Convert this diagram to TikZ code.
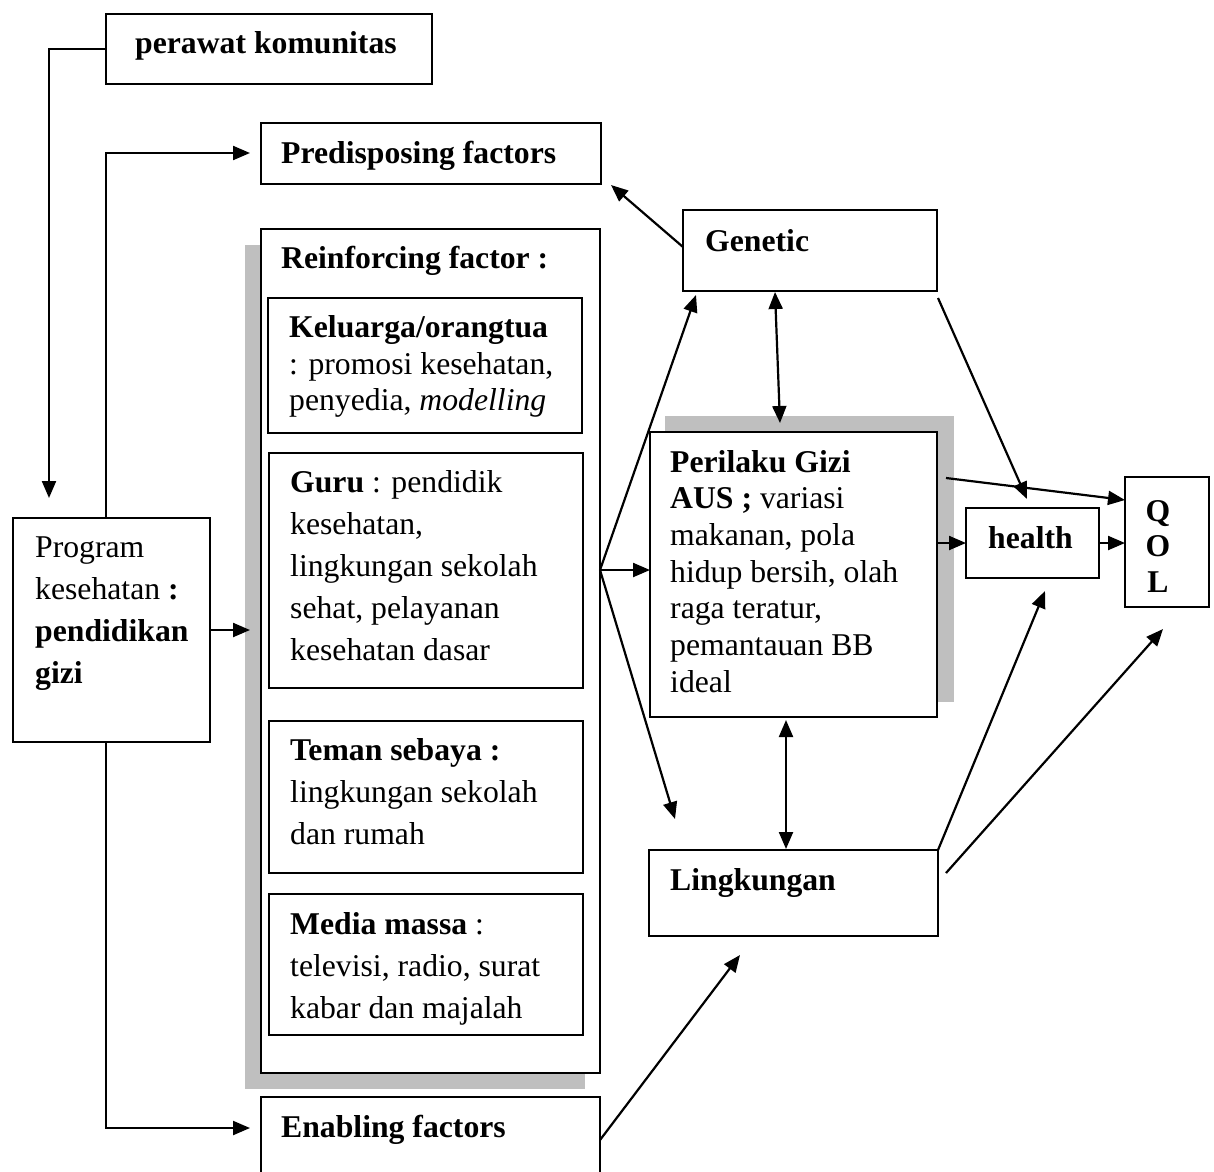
\documentclass[tikz,border=0pt]{standalone}
\usepackage{fontspec}
\setmainfont{Liberation Serif}
\usetikzlibrary{arrows.meta,calc}
\begin{document}
\begin{tikzpicture}[x=1pt,y=-1pt,
  box/.style={draw, line width=2.2pt, anchor=north west, inner sep=0pt, outer sep=0pt, fill=white},
  shade/.style={fill=black!25, draw=none},
  txt/.style={anchor=base west, inner sep=0pt, font=\fontsize{31.7pt}{36pt}\selectfont},
  ctxt/.style={anchor=base, inner sep=0pt, font=\fontsize{31.7pt}{36pt}\selectfont\bfseries},
  arr/.style={line width=2.2pt, -{Triangle[length=17pt,width=14pt]}},
  darr/.style={line width=2.2pt, {Triangle[length=17pt,width=14pt]}-{Triangle[length=17pt,width=14pt]}},
  ln/.style={line width=2.2pt}]
\useasboundingbox (0,0) rectangle (1214,1171);
\clip (0,0) rectangle (1214,1171);

% shadows
\fill[shade] (245,245) rectangle (585,1089);
\fill[shade] (665,416) rectangle (954,702);

% boxes
\node[box, minimum width=326pt, minimum height=70pt] (perawat) at (106,14) {};
\node[box, minimum width=340pt, minimum height=61pt] (pred) at (261,123) {};
\node[box, minimum width=339pt, minimum height=844pt] (reinf) at (261,229) {};
\node[box, minimum width=314pt, minimum height=135pt] (kel) at (268,298) {};
\node[box, minimum width=314pt, minimum height=235pt] (guru) at (269,453) {};
\node[box, minimum width=314pt, minimum height=152pt] (teman) at (269,721) {};
\node[box, minimum width=314pt, minimum height=141pt] (media) at (269,894) {};
\node[box, minimum width=339pt, minimum height=100pt] (enab) at (261,1097) {};
\node[box, minimum width=197pt, minimum height=224pt] (prog) at (13,518) {};
\node[box, minimum width=254pt, minimum height=81pt] (genetic) at (683,210) {};
\node[box, minimum width=287pt, minimum height=285pt] (peril) at (650,432) {};
\node[box, minimum width=133pt, minimum height=70pt] (health) at (966,508) {};
\node[box, minimum width=84pt, minimum height=130pt] (qol) at (1125,477) {};
\node[box, minimum width=289pt, minimum height=86pt] (ling) at (649,850) {};

% texts
\node[txt] (tperawat) at (135,53) {\textbf{perawat komunitas}};
\node[txt] (tpred) at (281,163) {\textbf{Predisposing factors}};
\node[txt] (treinf) at (281,268) {\textbf{Reinforcing factor :}};
\node[txt] (tkel1) at (289,337) {\textbf{Keluarga/orangtua}};
\node[txt] (tkel2) at (289,374) {: promosi kesehatan,};
\node[txt] (tkel3) at (289,410) {penyedia, \textit{modelling}};
\node[txt] (tguru1) at (290,492) {\textbf{Guru} : pendidik};
\node[txt] (tguru2) at (290,534) {kesehatan,};
\node[txt] (tguru3) at (290,576) {lingkungan sekolah};
\node[txt] (tguru4) at (290,618) {sehat, pelayanan};
\node[txt] (tguru5) at (290,660) {kesehatan dasar};
\node[txt] (tprog1) at (35,557) {Program};
\node[txt] (tprog2) at (35,599) {kesehatan \textbf{:}};
\node[txt] (tprog3) at (35,641) {\textbf{pendidikan}};
\node[txt] (tprog4) at (35,683) {\textbf{gizi}};
\node[txt] (tteman1) at (290,760) {\textbf{Teman sebaya :}};
\node[txt] (tteman2) at (290,802) {lingkungan sekolah};
\node[txt] (tteman3) at (290,844) {dan rumah};
\node[txt] (tmedia1) at (290,934) {\textbf{Media massa} :};
\node[txt] (tmedia2) at (290,976) {televisi, radio, surat};
\node[txt] (tmedia3) at (290,1018) {kabar dan majalah};
\node[txt] (tenab) at (281,1137) {\textbf{Enabling factors}};
\node[txt] (tgen) at (705,251) {\textbf{Genetic}};
\node[txt] (tper1) at (670,472) {\textbf{Perilaku Gizi}};
\node[txt] (tper2) at (670,508.7) {\textbf{AUS ;} variasi};
\node[txt] (tper3) at (670,545.4) {makanan, pola};
\node[txt] (tper4) at (670,582.1) {hidup bersih, olah};
\node[txt] (tper5) at (670,618.8) {raga teratur,};
\node[txt] (tper6) at (670,655.5) {pemantauan BB};
\node[txt] (tper7) at (670,692.2) {ideal};
\node[txt] (thealth) at (988,548) {\textbf{health}};
\node[ctxt] (tq) at (1158,521) {Q};
\node[ctxt] (to) at (1158,556) {O};
\node[ctxt] (tl) at (1158,592) {L};
\node[txt] (tling) at (670,890) {\textbf{Lingkungan}};

% connector coordinates
\coordinate (downtip) at (49,498);
\coordinate (vl) at (106,0);
\coordinate (predtip) at (250,153);
\coordinate (enabtip) at (250,1128);
\coordinate (progtip) at (250,630);
\coordinate (fan) at (600,570);
\coordinate (gtip) at (696,295);
\coordinate (lgtip) at (675,819);
\coordinate (pgtip) at (611,185);
\coordinate (gstart) at (683,247);
\coordinate (ghs) at (938,298);
\coordinate (ghtip) at (1027,499);
\coordinate (pqs) at (946,478);
\coordinate (pqtip) at (1125,500);
\coordinate (lqs) at (946,873);
\coordinate (lqtip) at (1163,629);
\coordinate (lhtip) at (1045,591);
\coordinate (elstart) at (600,1140);
\coordinate (eltip) at (740,955);
\coordinate (gp1) at (775,292);
\coordinate (gp2) at (780,423);
\coordinate (pl1) at (786,720);
\coordinate (pl2) at (786,849);

% connectors
\draw[arr] (perawat.west) -| (downtip);
\draw[arr] (prog.north -| vl) |- (predtip);
\draw[arr] (prog.east) -- (progtip);
\draw[arr] (prog.south -| vl) |- (enabtip);
\draw[arr] (gstart) -- (pgtip);
\draw[arr] (fan) -- (gtip);
\draw[arr] (fan) -- (peril.west |- fan);
\draw[arr] (fan) -- (lgtip);
\draw[darr] (gp1) -- (gp2);
\draw[darr] (pl1) -- (pl2);
\draw[arr] (ghs) -- (ghtip);
\draw[arr] (pqs) -- (pqtip);
\draw[arr] (peril.east |- health.west) -- (health.west);
\draw[arr] (health.east) -- (qol.west |- health.east);
\draw[arr] (ling.north east) -- (lhtip);
\draw[arr] (lqs) -- (lqtip);
\draw[arr] (elstart) -- (eltip);
\end{tikzpicture}
\end{document}
